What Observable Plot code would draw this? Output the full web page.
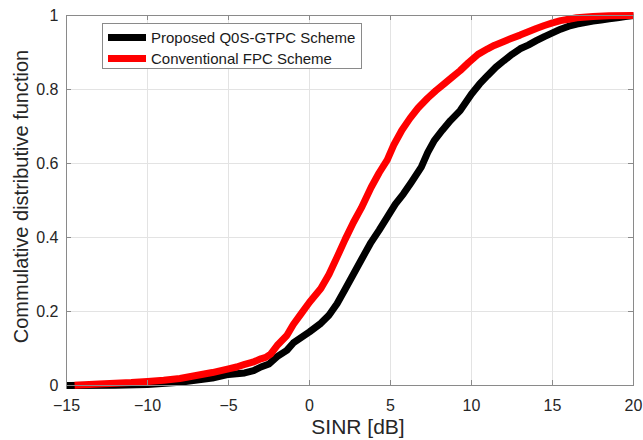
<!DOCTYPE html>
<html>
<head>
<meta charset="utf-8">
<script src="https://cdn.jsdelivr.net/npm/d3@7"></script>
<script src="https://cdn.jsdelivr.net/npm/@observablehq/plot@0.6"></script>
<style>
  html, body { margin: 0; padding: 0; background: #fff; }
  #wrap { position: relative; width: 643px; height: 440px; font-family: "Liberation Sans", Arial, sans-serif; }
  #legend { position: absolute; left: 102px; top: 23px; width: 260px; height: 46px; border: 1px solid #8a8a8a; background: #fff; box-sizing: border-box; }
  .row { position: absolute; left: 0; height: 20px; display: flex; align-items: center; font-size: 15px; color: #1a1a1a; white-space: nowrap; }
  .sw { display: inline-block; width: 38px; height: 7px; margin-left: 5px; margin-right: 5px; }
</style>
</head>
<body>
<div id="wrap"></div>
<script>
const seriesNames = ["Proposed Q0S-GTPC Scheme", "Conventional FPC Scheme"];
const seriesColors = ["#000000", "#ff0000"];

const proposedX = [-15, -12, -10, -8, -6, -5, -4, -3.45, -3, -2.5, -2, -1.4, -1, -0.5, 0, 0.7, 1.2, 1.7, 2.2, 2.7, 3.2, 3.8, 4.3, 4.8, 5.3, 5.8, 6.3, 6.9, 7.3, 7.7, 8.2, 8.7, 9.3, 10, 10.5, 11, 11.5, 12, 12.5, 13, 13.5, 14, 14.5, 15, 15.5, 16, 16.5, 17, 17.5, 18, 18.5, 19, 19.5, 20];
const proposedY = [0, 0.001, 0.003, 0.009, 0.02, 0.03, 0.034, 0.04, 0.05, 0.058, 0.078, 0.095, 0.115, 0.13, 0.145, 0.168, 0.19, 0.221, 0.26, 0.3, 0.34, 0.387, 0.42, 0.455, 0.49, 0.518, 0.55, 0.59, 0.63, 0.662, 0.69, 0.716, 0.743, 0.788, 0.815, 0.838, 0.86, 0.878, 0.895, 0.91, 0.92, 0.932, 0.943, 0.953, 0.963, 0.971, 0.977, 0.981, 0.985, 0.988, 0.991, 0.994, 0.997, 1.0];

const conventionalX = [-14.5, -13, -12, -11, -10, -9, -8, -7, -6, -5, -4.5, -4, -3.5, -3, -2.7, -2.4, -2, -1.4, -1, -0.5, 0, 0.7, 1.2, 1.7, 2.2, 2.7, 3.2, 3.8, 4.3, 4.8, 5.2, 5.7, 6.2, 6.7, 7.3, 7.8, 8.3, 8.8, 9.3, 9.8, 10.4, 11, 11.4, 12, 12.4, 13, 13.5, 14, 14.5, 15, 15.5, 16, 16.5, 17.5, 18.5, 20];
const conventionalY = [0.001, 0.004, 0.006, 0.008, 0.011, 0.014, 0.019, 0.027, 0.035, 0.045, 0.05, 0.057, 0.063, 0.072, 0.076, 0.085, 0.108, 0.135, 0.165, 0.195, 0.225, 0.262, 0.3, 0.347, 0.395, 0.44, 0.48, 0.535, 0.575, 0.61, 0.65, 0.69, 0.722, 0.75, 0.777, 0.797, 0.815, 0.833, 0.851, 0.872, 0.895, 0.91, 0.919, 0.93, 0.937, 0.947, 0.956, 0.965, 0.973, 0.98, 0.986, 0.99, 0.994, 0.997, 0.999, 1.0];

const xTicks = [-15, -10, -5, 0, 5, 10, 15, 20];
const yTicks = [0, 0.2, 0.4, 0.6, 0.8, 1];
const yTickLabels = ["0", "0.2", "0.4", "0.6", "0.8", "1"];
const xLabel = "SINR [dB]";
const yLabel = "Commulative distributive function";

const proposed = proposedX.map((x, i) => ({x, y: proposedY[i]}));
const conventional = conventionalX.map((x, i) => ({x, y: conventionalY[i]}));

const W = 643, H = 440, mL = 66, mR = 10, mT = 15, mB = 55;
const pw = W - mL - mR, ph = H - mT - mB;
const tickLen = 5;
const axisColor = "#8a8a8a";

const chart = Plot.plot({
  width: W, height: H,
  marginLeft: mL, marginRight: mR, marginTop: mT, marginBottom: mB,
  style: {fontFamily: "Liberation Sans, Arial, sans-serif", fontSize: "16px", color: "#262626", background: "#fff"},
  x: {domain: [-15, 20]},
  y: {domain: [0, 1]},
  marks: [
    Plot.gridX(xTicks, {stroke: "#e3e3e3", strokeOpacity: 1}),
    Plot.gridY(yTicks, {stroke: "#e3e3e3", strokeOpacity: 1}),
    Plot.line(proposed, {x: "x", y: "y", stroke: seriesColors[0], strokeWidth: 7, strokeLinejoin: "round", strokeLinecap: "butt"}),
    Plot.line(conventional, {x: "x", y: "y", stroke: seriesColors[1], strokeWidth: 7, strokeLinejoin: "round", strokeLinecap: "butt"}),
    Plot.ruleX(xTicks, {x: d => d, stroke: axisColor, insetTop: ph - tickLen}),
    Plot.ruleX(xTicks, {x: d => d, stroke: axisColor, insetBottom: ph - tickLen}),
    Plot.ruleY(yTicks, {y: d => d, stroke: axisColor, insetRight: pw - tickLen}),
    Plot.ruleY(yTicks, {y: d => d, stroke: axisColor, insetLeft: pw - tickLen}),
    Plot.frame({stroke: axisColor}),
    Plot.axisX({ticks: xTicks, tickSize: 0, tickPadding: 14, label: null, fill: "#262626"}),
    Plot.axisY({ticks: yTicks, tickFormat: (d) => yTickLabels[yTicks.indexOf(d)], tickSize: 0, tickPadding: 8, label: null, fill: "#262626"}),
    Plot.text([xLabel], {frameAnchor: "bottom", text: d => d, dy: 48, dx: 8, fontSize: 21, fill: "#262626", textAnchor: "middle"}),
    Plot.text([yLabel], {frameAnchor: "left", text: d => d, rotate: -90, dx: -45, dy: -4, fontSize: 20, fill: "#262626", textAnchor: "middle"})
  ]
});

const wrap = document.getElementById("wrap");
wrap.appendChild(chart);

const legend = document.createElement("div");
legend.id = "legend";
seriesNames.forEach((name, i) => {
  const row = document.createElement("div");
  row.className = "row";
  row.style.top = (3 + i * 21) + "px";
  const sw = document.createElement("span");
  sw.className = "sw";
  sw.style.background = seriesColors[i];
  const t = document.createElement("span");
  t.textContent = name;
  row.appendChild(sw);
  row.appendChild(t);
  legend.appendChild(row);
});
wrap.appendChild(legend);
</script>
</body>
</html>
